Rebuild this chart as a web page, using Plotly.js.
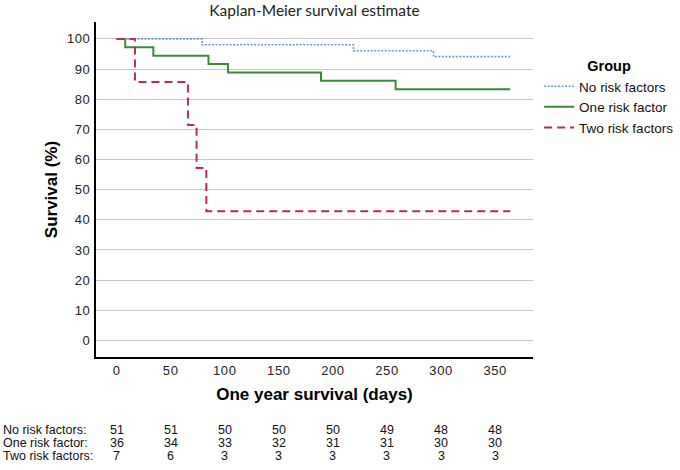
<!DOCTYPE html>
<html>
<head>
<meta charset="utf-8">
<script src="https://cdn.plot.ly/plotly-3.0.1.min.js"></script>
<style>
html,body{margin:0;padding:0;background:#fff;}
#chart{width:680px;height:470px;}
.xtick text,.ytick text{letter-spacing:0.6px;}
</style>
</head>
<body>
<div id="chart"></div>
<script>
// Kaplan-Meier step data (days, survival %)
const noRiskDays = [0, 79, 219, 293, 364];
const noRiskSurv = [100, 98.04, 96.08, 94.12, 94.12];
const oneRiskDays = [0, 8, 34, 85, 103, 189, 258, 364];
const oneRiskSurv = [100, 97.22, 94.44, 91.67, 88.89, 86.11, 83.33, 83.33];
const twoRiskDays = [0, 17, 66, 74, 83, 364];
const twoRiskSurv = [100, 85.71, 71.43, 57.14, 42.86, 42.86];

const groupNames = ["No risk factors", "One risk factor", "Two risk factors"];

// Number at risk table
const riskTimes = [0, 50, 100, 150, 200, 250, 300, 350];
const noRiskAtRisk = [51, 51, 50, 50, 50, 49, 48, 48];
const oneRiskAtRisk = [36, 34, 33, 32, 31, 31, 30, 30];
const twoRiskAtRisk = [7, 6, 3, 3, 3, 3, 3, 3];
const riskRowLabels = ["No risk factors:", "One risk factor:", "Two risk factors:"];

const yTicks = [0, 10, 20, 30, 40, 50, 60, 70, 80, 90, 100];
const xTicks = [0, 50, 100, 150, 200, 250, 300, 350];

const traces = [
  {x: noRiskDays, y: noRiskSurv, name: groupNames[0], mode: 'lines',
   line: {shape: 'hv', color: '#6e9ccf', width: 1.6, dash: '2px,1.5px'}},
  {x: oneRiskDays, y: oneRiskSurv, name: groupNames[1], mode: 'lines',
   line: {shape: 'hv', color: '#3a8a3a', width: 2}},
  {x: twoRiskDays, y: twoRiskSurv, name: groupNames[2], mode: 'lines',
   line: {shape: 'hv', color: '#c5255a', width: 2, dash: '8px,5px'}}
];

const rows = [noRiskAtRisk, oneRiskAtRisk, twoRiskAtRisk];
const rowY = [-0.219, -0.258, -0.297];
const annotations = [];
const tableFont = {family: 'Liberation Sans, Arial, sans-serif', size: 12.5, color: '#111'};
rows.forEach((vals, r) => {
  annotations.push({xref: 'paper', yref: 'paper', x: -0.215, y: rowY[r], xanchor: 'left', yanchor: 'middle',
    text: riskRowLabels[r], showarrow: false, font: tableFont, borderpad: 0});
  vals.forEach((v, i) => {
    annotations.push({xref: 'x', yref: 'paper', x: riskTimes[i], y: rowY[r], xanchor: 'center', yanchor: 'middle',
      text: String(v), showarrow: false, font: tableFont, borderpad: 0});
  });
});

const layout = {
  width: 680, height: 470,
  margin: {l: 96, r: 147, t: 22, b: 113, autoexpand: false},
  paper_bgcolor: '#fff', plot_bgcolor: '#fff',
  font: {family: 'Liberation Sans, Arial, sans-serif', color: '#111'},
  title: {text: 'Kaplan-Meier survival estimate', font: {family: 'Lato, Open Sans, sans-serif', size: 15.5, color: '#222'},
    xref: 'paper', x: 0.5, xanchor: 'center', yref: 'container', y: 0.978, yanchor: 'middle'},
  xaxis: {range: [-19, 385], tickvals: xTicks, ticktext: xTicks.map(String), showgrid: false, zeroline: false,
    showline: true, linecolor: '#000', linewidth: 2, ticks: '', ticklabelstandoff: 0, automargin: false,
    tickfont: {size: 13, color: '#222'},
    title: {text: '<b>One year survival (days)</b>', font: {size: 17, color: '#000'}, standoff: 12}},
  yaxis: {range: [-5.5, 105.6], tickvals: yTicks, ticktext: yTicks.map(String), showgrid: true, gridcolor: '#c8c8c8', gridwidth: 1,
    zeroline: false, showline: true, linecolor: '#000', linewidth: 2, ticks: '', ticklabelstandoff: 1, automargin: false,
    tickfont: {size: 13, color: '#222'},
    title: {text: '<b>Survival (%)</b>', font: {size: 17, color: '#000'}, standoff: 5}},
  legend: {x: 1.014, y: 0.91, xanchor: 'left', yanchor: 'top', bgcolor: 'rgba(0,0,0,0)',
    font: {size: 13.5, color: '#111'},
    title: {text: '<b>Group</b>', side: 'top center', font: {size: 14.5, color: '#000'}}},
  showlegend: true,
  annotations: annotations
};

Plotly.newPlot('chart', traces, layout, {displayModeBar: false, staticPlot: true});
</script>
</body>
</html>
